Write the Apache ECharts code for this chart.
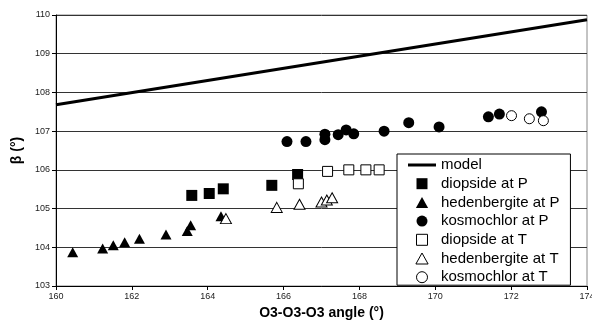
<!DOCTYPE html>
<html><head><meta charset="utf-8">
<script src="https://cdn.jsdelivr.net/npm/echarts@6/dist/echarts.min.js"></script>
<style>html,body{margin:0;padding:0;background:#fff}#c{width:592px;height:327px}</style>
</head><body><div id="c"></div>
<script>
const modelLine = [[160, 107.68], [174, 109.88]];
const diopsideP = [[163.58,105.34],[164.04,105.39],[164.41,105.51],[165.69,105.6],[166.37,105.88]];
const hedenbergiteP = [[160.44,103.87],[161.23,103.97],[161.51,104.05],[161.81,104.13],[162.2,104.22],[162.9,104.33],[163.46,104.42],[163.55,104.57],[164.35,104.8]];
const kosmochlorP = [[166.09,106.73],[166.59,106.73],[167.09,106.92],[167.09,106.78],[167.44,106.91],[167.65,107.03],[167.85,106.93],[168.65,107.0],[169.3,107.22],[170.1,107.11],[171.4,107.37],[171.69,107.44],[172.8,107.5]];
const diopsideT = [[166.39,105.64],[167.16,105.96],[167.72,106.0],[168.17,106.0],[168.52,106.0]];
const hedenbergiteT = [[164.48,104.74],[165.82,105.03],[166.42,105.11],[167.0,105.17],[167.14,105.22],[167.28,105.28]];
const kosmochlorT = [[172.01,107.4],[172.48,107.32],[172.85,107.27]];
const seriesNames = ['model','diopside at P','hedenbergite at P','kosmochlor at P','diopside at T','hedenbergite at T','kosmochlor at T'];

const FONT = '"Liberation Sans", Arial, sans-serif';
const SQ = 'path://M0,0H10V10H0Z';
const TRI = 'path://M5,0L10,9L0,9Z';
const CIR = 'path://M10,5A5,5,0,1,1,0,5A5,5,0,1,1,10,5Z';
const LINE = 'path://M0,0H28V3H0Z';
const chart = echarts.init(document.getElementById('c'), null, {renderer: 'canvas'});
const filled = {color: '#000', opacity: 1};
const open = {color: '#fff', borderColor: '#000', borderWidth: 1, opacity: 1};
function sc(name, data, symbol, size, style) {
  return {name, type: 'scatter', data, symbol, symbolSize: size, itemStyle: style, emphasis: {disabled: true}};
}
chart.setOption({
  animation: false,
  textStyle: {fontFamily: FONT},
  grid: {left: 56, right: 5, top: 15, bottom: 41, show: true, borderColor: '#888', borderWidth: 1, outerBoundsMode: 'none', containLabel: false},
  xAxis: {
    type: 'value', min: 160, max: 174, interval: 2,
    name: 'O3-O3-O3 angle (°)', nameLocation: 'middle', nameGap: 20,
    nameTextStyle: {fontFamily: FONT, fontSize: 14, fontWeight: 'bold', color: '#000'},
    axisLine: {show: true, lineStyle: {color: '#000', width: 1}},
    axisTick: {show: true, length: 4, lineStyle: {color: '#000'}},
    axisLabel: {fontFamily: FONT, fontSize: 9, color: '#222', margin: 6},
    splitLine: {show: false}
  },
  yAxis: {
    type: 'value', min: 103, max: 110, interval: 1,
    name: 'β (°)', nameLocation: 'middle', nameGap: 31,
    nameTextStyle: {fontFamily: FONT, fontSize: 14, fontWeight: 'bold', color: '#000'},
    axisLine: {show: true, lineStyle: {color: '#000', width: 1}},
    axisTick: {show: true, length: 4, lineStyle: {color: '#000'}},
    axisLabel: {fontFamily: FONT, fontSize: 9, color: '#222', margin: 6},
    splitLine: {show: true, lineStyle: {color: '#333', width: 1}}
  },
  legend: {
    orient: 'vertical', left: 397, top: 154,
    backgroundColor: '#fff', borderColor: '#000', borderWidth: 1,
    padding: [3, 11, 0, 11], itemGap: 2.7, itemWidth: 28, itemHeight: 11,
    symbolKeepAspect: true,
    textStyle: {fontFamily: FONT, fontSize: 15, color: '#000', lineHeight: 16},
    data: [
      {name: seriesNames[0], icon: LINE, itemStyle: {color: '#000', opacity: 1}},
      {name: seriesNames[1], icon: SQ, itemStyle: filled},
      {name: seriesNames[2], icon: TRI, itemStyle: filled},
      {name: seriesNames[3], icon: CIR, itemStyle: filled},
      {name: seriesNames[4], icon: SQ, itemStyle: open},
      {name: seriesNames[5], icon: TRI, itemStyle: open},
      {name: seriesNames[6], icon: CIR, itemStyle: open}
    ]
  },
  series: [
    {name: seriesNames[0], type: 'line', data: modelLine, symbol: 'none', showSymbol: false, lineStyle: {color: '#000', width: 3}, itemStyle: {color: '#000'}},
    sc(seriesNames[1], diopsideP, 'rect', 11, filled),
    sc(seriesNames[2], hedenbergiteP, 'triangle', [11, 10], filled),
    sc(seriesNames[3], kosmochlorP, 'circle', 11, filled),
    sc(seriesNames[4], diopsideT, 'rect', 10, open),
    sc(seriesNames[5], hedenbergiteT, 'triangle', [11, 10], open),
    sc(seriesNames[6], kosmochlorT, 'circle', 10, open)
  ]
});
</script></body></html>
